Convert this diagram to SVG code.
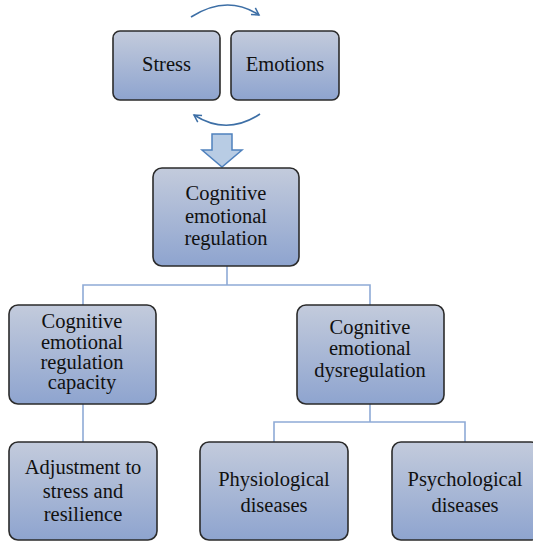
<svg xmlns="http://www.w3.org/2000/svg" width="533" height="541" viewBox="0 0 533 541">
<defs>
<linearGradient id="g" x1="0" y1="0" x2="0" y2="1">
<stop offset="0" stop-color="#c3cbdc"/>
<stop offset="1" stop-color="#8ea4cf"/>
</linearGradient>
<marker id="chev" markerWidth="10" markerHeight="10" refX="8" refY="5" orient="auto" markerUnits="userSpaceOnUse">
<path d="M1,1 L8,5 L1,9" fill="none" stroke="#3d6fa6" stroke-width="1.5"/>
</marker>
<style>
.box{fill:url(#g);stroke:#2b2b2b;stroke-width:1.6}
.t{font-size:20.5px;fill:#111;text-anchor:middle}
.c{fill:none;stroke:#8eaad6;stroke-width:1.6}
.arc{fill:none;stroke:#3d6fa6;stroke-width:1.6}
</style>
</defs>
<g id="connectors">
<path class="arc" d="M191,17 Q227,-6 259,15" marker-end="url(#chev)"/>
<path class="arc" d="M260,114 Q227,136 194,115" marker-end="url(#chev)"/>
<path d="M212,134 H232 V150 H242 L222,167 L202,150 H212 Z" fill="#b8cce4" stroke="#4f81bd" stroke-width="1.5"/>
<path class="c" d="M227,266 V285 M83,305 V285 H370 V305"/>
<path class="c" d="M83,404 V442"/>
<path class="c" d="M370,404 V422 M274,442 V422 H465 V442"/>
</g>
<g id="nodes" font-family="Liberation Serif" font-size="20.5">
<g id="stress">
<rect class="box" x="113" y="31" width="107" height="69" rx="7"/>
<text class="t" x="166.5" y="71">Stress</text>
</g>
<g id="emotions">
<rect class="box" x="231" y="31" width="108" height="69" rx="7"/>
<text class="t" x="285" y="71">Emotions</text>
</g>
<g id="cer">
<rect class="box" x="153" y="168" width="146" height="98" rx="9"/>
<text class="t" x="226" y="200">Cognitive</text>
<text class="t" x="226" y="223">emotional</text>
<text class="t" x="226" y="245">regulation</text>
</g>
<g id="capacity">
<rect class="box" x="9" y="305" width="147" height="99" rx="9"/>
<text class="t" x="82" y="328">Cognitive</text>
<text class="t" x="82" y="349">emotional</text>
<text class="t" x="82" y="369">regulation</text>
<text class="t" x="82" y="389">capacity</text>
</g>
<g id="dysregulation">
<rect class="box" x="297" y="305" width="147" height="99" rx="9"/>
<text class="t" x="370" y="334">Cognitive</text>
<text class="t" x="370" y="355">emotional</text>
<text class="t" x="370" y="377">dysregulation</text>
</g>
<g id="adjustment">
<rect class="box" x="9" y="442" width="148" height="98" rx="9"/>
<text class="t" x="83" y="474">Adjustment to</text>
<text class="t" x="83" y="498">stress and</text>
<text class="t" x="83" y="521">resilience</text>
</g>
<g id="physiological">
<rect class="box" x="200" y="442" width="148" height="98" rx="9"/>
<text class="t" x="274" y="486">Physiological</text>
<text class="t" x="274" y="512">diseases</text>
</g>
<g id="psychological">
<rect class="box" x="392" y="442" width="148" height="98" rx="9"/>
<text class="t" x="465" y="486">Psychological</text>
<text class="t" x="465" y="512">diseases</text>
</g>
</g>
</svg>
